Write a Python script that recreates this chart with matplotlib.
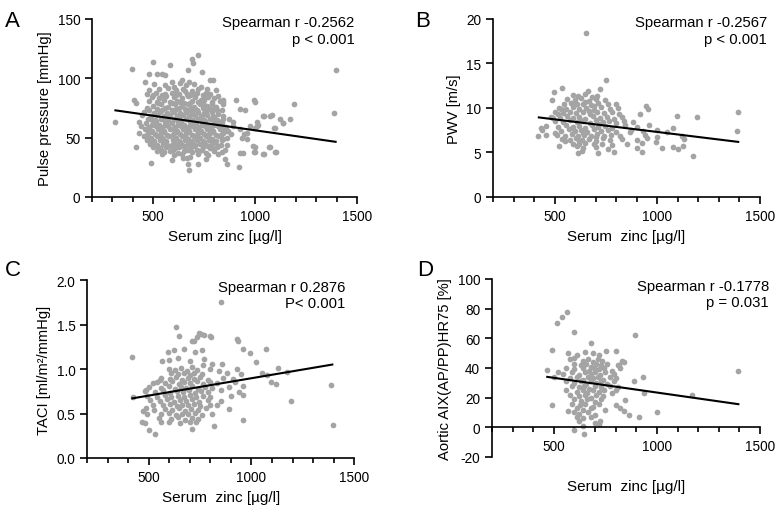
import matplotlib
matplotlib.use("Agg")
import matplotlib.pyplot as plt
from matplotlib.ticker import MultipleLocator, FixedLocator, FormatStrFormatter

plt.rcParams['font.family'] = ['Liberation Sans', 'DejaVu Sans']
plt.rcParams['axes.unicode_minus'] = False

# %%
# data read off the picture (serum zinc [ug/l], measured value)
points_a = [
    (721,120),(689,116),(697,113),(501,114),(582,111),(398,108),(672,107),(738,105),(1397,107),
    (481,104),(517,104),(542,104),(558,103),(460,97),(591,97),(640,99),(795,99),(632,96),(675,97),(779,99),
    (505,95),(560,94),(600,93),(662,94),(700,95),(735,93),(765,91),
    (480,90),(530,91),(575,92),(610,90),(648,91),(690,89),(720,91),(760,88),(810,90),
    (470,87),(515,88),(545,86),(590,88),(625,87),(655,89),(680,86),(715,88),(745,86),(780,87),(820,85),(907,82),
    (500,86),(560,87),(610,86),(665,87),(700,86),(760,85),
    (495,84),(530,83),(565,85),(600,84),(640,83),(670,85),(705,84),(735,82),(770,84),(800,83),(845,82),
    (407,82),(416,79),(480,81),(520,80),(555,82),(585,80),(615,81),(650,79),(690,81),(720,80),(750,82),
    (790,80),(830,81),(997,82),(1000,80),
    (525,79),(590,79),(630,80),(680,79),(745,79),(790,78),
    (500,77),(540,78),(575,76),(605,78),(640,77),(670,78),(700,76),(730,78),(765,77),(810,76),(845,78),
    (1193,78),(844,80),
    (470,75),(520,74),(560,75),(590,73),(625,75),(655,74),(685,75),(715,73),(745,75),(780,74),(815,73),
    (480,73),(545,73),(610,74),(670,73),(705,74),(765,73),(800,74),
    (455,72),(505,71),(535,72),(570,70),(600,72),(630,71),(660,72),(690,70),(720,72),(750,71),(790,72),
    (836,73),(951,73),(926,74),
    (505,70),(570,71),(630,69),(690,71),(750,70),(820,70),
    (445,69),(490,68),(520,69),(555,67),(585,69),(615,68),(645,69),(675,67),(705,69),(735,68),(765,69),
    (800,67),(845,68),(1041,68),(1073,68),(1082,69),(1389,71),(1045,68),
    (490,66),(555,68),(615,67),(675,68),(735,67),(795,68),
    (475,66),(510,65),(540,66),(570,64),(600,66),(630,65),(660,66),(690,64),(720,66),(750,65),(780,66),
    (815,65),(870,66),(1122,66),(1172,66),(841,66),
    (515,64),(575,65),(635,64),(695,65),(755,64),(820,64),
    (313,63),(430,63),(465,62),(500,63),(530,61),(560,63),(590,62),(620,63),(650,61),(680,63),(710,62),
    (740,63),(770,61),(800,63),(893,63),(1008,63),(1135,62),(1139,62),
    (495,61),(560,61),(620,61),(680,60),(740,61),(800,61),(840,62),
    (440,60),(480,59),(515,60),(545,58),(575,60),(605,59),(635,60),(665,58),(695,60),(725,59),(755,60),
    (785,58),(820,60),(855,59),(975,60),(890,60),(1016,61),(1008,60),
    (475,58),(540,59),(600,58),(660,59),(720,58),(780,59),(845,58),
    (460,57),(495,56),(525,57),(555,55),(585,57),(615,56),(645,57),(675,55),(705,57),(735,56),(765,57),
    (795,55),(830,57),(865,56),(926,57),(1000,58),(1098,58),(1093,58),
    (490,55),(555,56),(615,55),(675,56),(735,55),(795,56),(860,56),
    (432,54),(475,54),(510,53),(540,54),(570,52),(600,54),(630,53),(660,54),(690,52),(720,54),(750,53),
    (780,54),(810,52),(845,54),(880,53),(959,54),(947,53),
    (470,52),(535,52),(595,52),(655,51),(715,52),(770,52),(835,52),
    (455,51),(490,50),(520,51),(550,49),(580,51),(610,50),(640,51),(670,49),(700,51),(730,50),(760,51),
    (790,49),(825,51),(860,50),(934,50),
    (485,49),(545,50),(600,49),(660,50),(715,49),(775,50),(845,49),
    (470,48),(505,47),(535,48),(565,46),(595,48),(625,47),(655,48),(685,46),(715,48),(745,47),(775,48),
    (805,46),(840,48),(959,49),
    (500,46),(565,47),(630,46),(690,47),(750,46),(810,47),
    (485,45),(520,44),(550,45),(580,43),(610,45),(640,44),(670,45),(700,43),(730,45),(760,44),(790,45),
    (820,43),(860,44),
    (520,43),(590,44),(650,43),(705,44),(770,43),(835,44),
    (416,42),(500,42),(535,41),(565,42),(595,40),(625,42),(655,41),(685,42),(715,40),(745,42),(780,41),
    (815,42),(850,40),(992,43),(1068,42),(1073,42),(1000,42),
    (540,40),(605,41),(670,40),(740,40),(790,41),
    (520,39),(555,38),(585,39),(620,37),(650,39),(690,38),(725,39),(760,37),(800,39),(840,38),(996,38),
    (1000,38),(1098,38),(1101,38),(926,37),
    (545,36),(600,35),(640,36),(680,34),(720,36),(770,35),(820,36),(939,37),(1040,36),(1046,36),
    (594,31),(645,33),(668,33),(760,32),(853,32),
    (489,29),(672,28),(718,28),(861,28),
    (677,23),(921,25),
]

points_b = [
    (655,18.4),(749,13.1),(536,12.2),(497,11.75),(485,10.9),(720,12.1),(663,11.9),(419,6.9),(460,7.0),
    (436,7.7),(522,5.7),(614,4.9),(709,4.95),(788,5.06),(945,10.25),(956,9.9),(915,9.3),(1094,9.05),
    (1191,9.0),(1394,9.6),(1387,7.4),(1172,4.6),(1126,5.7),(1102,5.4),(1075,5.6),(1021,5.5),(992,6.2),
    (997,6.7),(1078,7.8),(1130,6.5),(1121,6.8),(1045,7.3),(924,5.1),(842,8.1),(866,7.25),(607,5.7),
    (631,5.2),(550,6.3),(501,7.2),(533,9.9),(517,9.3),(493,8.9),
    (590,11.5),(615,11.3),(650,11.6),(680,11.2),(705,11.4),
    (560,11.0),(600,10.9),(630,11.1),(665,10.8),(700,11.0),(745,10.9),
    (545,10.5),(580,10.6),(610,10.4),(640,10.5),(675,10.3),(710,10.6),(760,10.4),(800,10.5),
    (520,10.0),(555,9.9),(590,10.1),(620,9.9),(655,10.0),(690,9.8),(725,10.1),(770,9.9),(810,10.0),
    (500,9.5),(540,9.4),(575,9.6),(605,9.4),(640,9.5),(670,9.3),(705,9.6),(740,9.4),(780,9.5),(815,9.3),
    (480,9.0),(525,8.9),(560,9.1),(590,8.9),(620,9.0),(650,8.8),(685,9.1),(720,8.9),(755,9.0),(790,8.8),
    (830,9.0),
    (500,8.5),(540,8.4),(575,8.6),(610,8.4),(640,8.5),(670,8.3),(700,8.6),(735,8.4),(765,8.5),(800,8.3),
    (840,8.5),(880,8.4),
    (460,8.0),(515,7.9),(555,8.1),(590,7.9),(620,8.0),(650,7.8),(680,8.1),(710,7.9),(745,8.0),(780,7.8),
    (900,7.9),(960,8.1),
    (440,7.5),(530,7.4),(570,7.6),(600,7.4),(630,7.5),(660,7.3),(690,7.6),(725,7.4),(760,7.5),(800,7.3),
    (870,7.5),(930,7.4),(1000,7.5),
    (510,7.0),(550,6.9),(585,7.1),(615,6.9),(645,7.0),(675,6.8),(705,7.1),(740,6.9),(775,7.0),(820,6.8),
    (940,7.0),
    (535,6.5),(575,6.4),(605,6.6),(635,6.4),(665,6.5),(700,6.3),(735,6.6),(770,6.4),(830,6.5),(900,6.4),
    (950,6.6),
    (590,6.0),(620,5.9),(650,6.1),(690,5.9),(730,6.0),(780,5.8),(850,6.0),(925,6.1),
    (640,5.5),(700,5.6),(760,5.4),(900,5.5),
    (595,10.3),(650,10.7),(690,10.2),(625,8.7),(665,9.7),(715,8.2),(585,7.7),(640,7.2),(700,6.7),(620,6.3),
]

points_c = [
    (419,1.13),(850,1.75),(631,1.47),(745,1.41),(754,1.39),(798,1.37),(770,1.38),(647,1.37),(931,1.34),
    (935,1.32),(712,1.32),(1070,1.22),(993,1.18),(961,1.23),(1021,1.08),(1131,1.01),(1172,0.97),
    (1075,0.935),(1096,0.85),(1120,0.83),(1193,0.645),(1388,0.82),(1395,0.37),(958,0.43),(818,0.365),
    (709,0.325),(532,0.265),(502,0.31),(465,0.40),(481,0.39),(485,0.56),(470,0.525),(525,0.535),
    (421,0.69),(485,0.76),(522,0.84),(554,0.88),(592,1.19),(624,1.21),(673,1.23),(725,1.195),(758,1.21),
    (733,1.36),(722,1.32),(563,1.09),(802,1.36),(855,1.06),(806,1.06),(766,1.04),
    (600,1.10),(640,1.12),(700,1.09),(770,1.11),
    (600,1.00),(625,0.99),(655,1.01),(685,0.98),(710,1.02),(735,0.99),(800,1.00),(840,0.98),(930,1.00),
    (610,0.95),(640,0.94),(670,0.96),(700,0.93),(720,0.95),(760,0.94),(880,0.95),(950,0.94),(1050,0.96),
    (560,0.90),(605,0.89),(630,0.91),(660,0.88),(690,0.90),(720,0.89),(750,0.91),(790,0.88),(860,0.90),
    (910,0.89),
    (540,0.85),(580,0.84),(615,0.86),(645,0.83),(670,0.85),(700,0.84),(735,0.86),(765,0.83),(800,0.85),
    (830,0.84),(920,0.85),
    (500,0.80),(560,0.79),(600,0.81),(625,0.78),(655,0.80),(680,0.79),(710,0.81),(740,0.78),(775,0.80),
    (810,0.79),(890,0.80),(960,0.81),
    (480,0.75),(530,0.74),(570,0.76),(605,0.73),(635,0.75),(665,0.74),(695,0.76),(725,0.73),(755,0.75),
    (790,0.74),(850,0.76),(940,0.74),
    (490,0.70),(540,0.69),(580,0.71),(610,0.68),(640,0.70),(670,0.69),(700,0.71),(730,0.68),(765,0.70),
    (800,0.69),(900,0.70),(960,0.71),
    (505,0.65),(555,0.64),(590,0.66),(620,0.63),(650,0.65),(680,0.64),(710,0.66),(745,0.63),(790,0.65),
    (850,0.64),
    (520,0.60),(570,0.59),(605,0.61),(635,0.58),(660,0.60),(690,0.59),(720,0.61),(750,0.58),(800,0.60),
    (830,0.59),
    (580,0.55),(615,0.54),(645,0.56),(675,0.53),(705,0.55),(740,0.54),(780,0.56),(890,0.55),
    (490,0.50),(560,0.49),(600,0.51),(630,0.48),(660,0.50),(690,0.49),(725,0.51),(760,0.48),(810,0.50),
    (550,0.45),(610,0.44),(640,0.46),(675,0.43),(710,0.45),(740,0.44),
    (560,0.40),(600,0.41),(650,0.39),(700,0.40),(730,0.41),
]

points_d = [
    (565,77.9),(541,74.1),(513,70.1),(597,64),(492,52),(678,56.6),(895,62.2),(802,51.6),(754,51.6),
    (831,45),(818,41.9),(468,38.8),(492,14.9),(568,11.1),(597,-1.8),(645,-4.7),(726,4.3),(866,8.2),
    (839,11.1),(847,18.5),(911,7.0),(1000,10),(1172,21.9),(1395,37.9),(935,22.8),(931,33.6),(887,31),
    (570,50),(610,49),(650,51),(690,50),(720,49),
    (580,46),(600,47),(640,45),(665,46),(690,44),(715,46),(735,45),
    (600,43),(630,42),(655,43),(680,41),(705,43),(730,42),(760,43),(810,42),(840,44),
    (560,40),(600,39),(640,40),(670,38),(695,40),(720,39),(745,40),(780,38),(820,40),
    (520,37),(545,36),(590,37),(620,35),(650,37),(680,36),(700,37),(725,35),(750,37),(790,36),
    (500,34),(580,33),(610,34),(640,32),(665,34),(690,33),(715,34),(740,32),(770,34),(800,33),
    (560,31),(600,30),(630,31),(655,29),(680,31),(705,30),(730,31),(760,29),(790,31),
    (590,28),(620,27),(645,28),(670,26),(700,28),(730,27),(770,28),(810,27),
    (560,25),(610,24),(640,25),(660,23),(690,25),(720,24),(745,25),(780,23),(800,25),
    (580,22),(620,21),(650,22),(680,20),(705,22),(740,21),
    (600,19),(630,18),(660,19),(700,17),(730,19),
    (590,16),(625,15),(650,16),(690,14),(720,16),(800,15),
    (610,13),(640,12),(680,13),(750,12),(820,13),
    (600,10),(620,9),(665,10),(700,8),
    (610,7),(640,6),(680,7),
    (620,4),(700,3),
    (640,1),(720,2),
]

# regression line end points
fit_a = [(315, 73.0), (1395, 46.5)]
fit_b = [(423, 8.94), (1394, 6.19)]
fit_c = [(419, 0.67), (1394, 1.05)]
fit_d = [(468, 34.0), (1395, 15.6)]

ylabels = ['Pulse pressure [mmHg]', 'PWV [m/s]', 'TACI [ml/m²/mmHg]', 'Aortic AIX(AP/PP)HR75 [%]']
xlabels = ['Serum zinc [µg/l]', 'Serum  zinc [µg/l]', 'Serum  zinc [µg/l]', 'Serum  zinc [µg/l]']
stats = ['Spearman r -0.2562\np < 0.001', 'Spearman r -0.2567\np < 0.001',
         'Spearman r 0.2876\nP< 0.001', 'Spearman r -0.1778\np = 0.031']
letters = ['A', 'B', 'C', 'D']
yticks = [[0, 50, 100, 150], [0, 5, 10, 15, 20], [0.0, 0.5, 1.0, 1.5, 2.0], [-20, 0, 20, 40, 60, 80, 100]]

# %%
fig = plt.figure(figsize=(7.79, 5.10), dpi=100)
boxes = [[0.1181, 0.6118, 0.3402, 0.349], [0.6329, 0.6118, 0.3427, 0.349],
         [0.1121, 0.100, 0.3424, 0.349], [0.6316, 0.102, 0.3440, 0.349]]
stat_pos = [(0.99, 1.02), (1.026, 1.02), (0.966, 1.0), (1.034, 1.0)]
letter_pos = [(0.006, 0.978), (0.533, 0.978), (0.006, 0.49), (0.535, 0.49)]
xlab_y = [-0.18, -0.18, -0.18, -0.125]

all_points = [points_a, points_b, points_c, points_d]
all_fits = [fit_a, fit_b, fit_c, fit_d]

for i in range(4):
    ax = fig.add_axes(boxes[i])
    xs = [p[0] for p in all_points[i]]
    ys = [p[1] for p in all_points[i]]
    ax.scatter(xs, ys, s=17, color='#a4a4a4', linewidths=0, zorder=2)
    fx = [p[0] for p in all_fits[i]]
    fy = [p[1] for p in all_fits[i]]
    ax.plot(fx, fy, color='black', lw=1.5, zorder=3)

    ax.set_xlim(200, 1500)
    ax.set_ylim(yticks[i][0], yticks[i][-1])
    ax.xaxis.set_major_locator(FixedLocator([500, 1000, 1500]))
    ax.xaxis.set_minor_locator(MultipleLocator(100))
    ax.set_yticks(yticks[i])
    if i == 2:
        ax.yaxis.set_major_formatter(FormatStrFormatter('%.1f'))
    if i == 3:
        ax.spines['bottom'].set_position(('data', 0))

    for s in ['top', 'right']:
        ax.spines[s].set_visible(False)
    for s in ['left', 'bottom']:
        ax.spines[s].set_linewidth(1.2)
    ax.tick_params(which='major', length=5, width=1.2, labelsize=9.8, direction='out')
    ax.tick_params(which='minor', length=3.5, width=1.2, direction='out')
    ax.tick_params(axis='y', which='minor', length=0)

    ax.set_xlabel(xlabels[i], fontsize=11)
    ax.xaxis.set_label_coords(0.5, xlab_y[i])
    ax.set_ylabel(ylabels[i], fontsize=10.6)
    ax.text(stat_pos[i][0], stat_pos[i][1], stats[i], transform=ax.transAxes,
            ha='right', va='top', fontsize=10.7, linespacing=1.2)
    fig.text(letter_pos[i][0], letter_pos[i][1], letters[i], fontsize=16, va='top')

plt.savefig('out.png', dpi=100)
